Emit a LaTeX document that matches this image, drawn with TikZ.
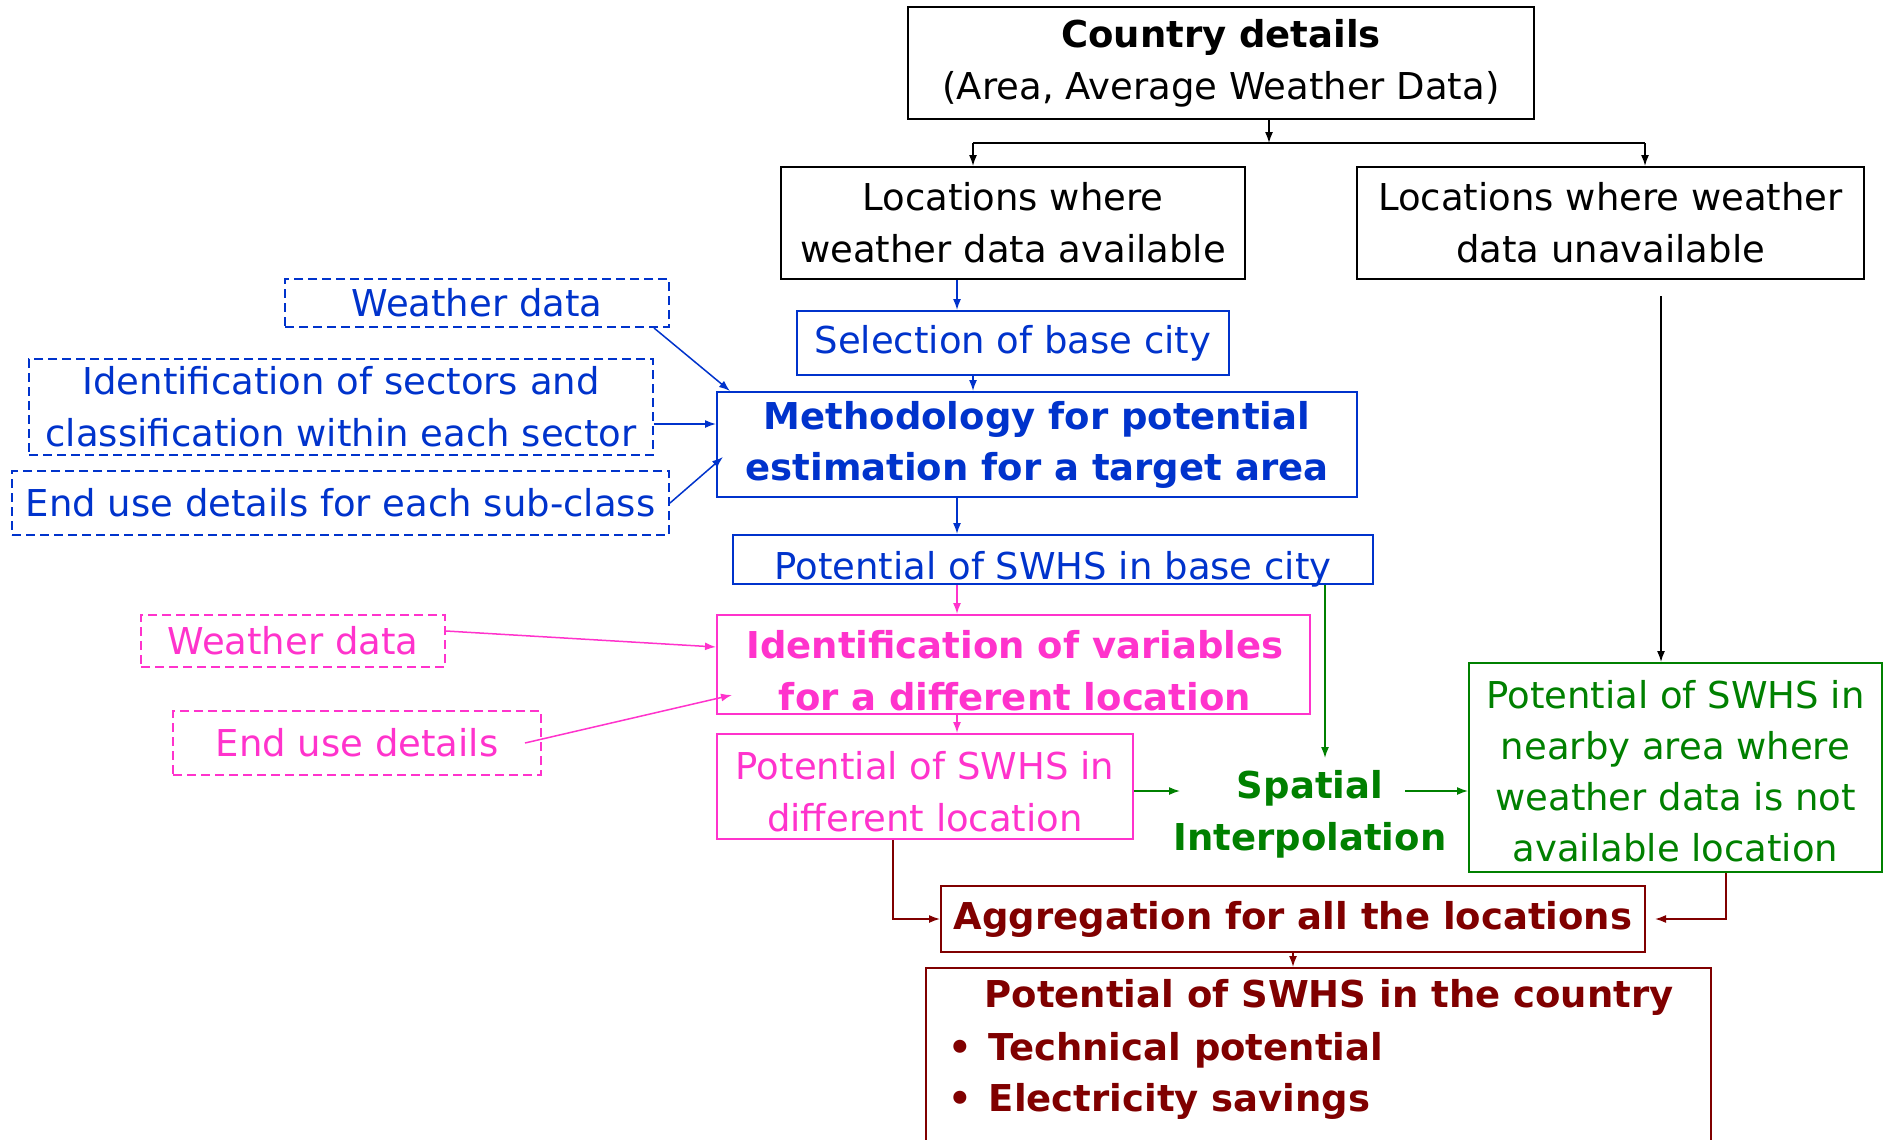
\documentclass[tikz,border=0pt]{standalone}
\usepackage{fontspec}
\setmainfont{DejaVu Sans}
\usetikzlibrary{arrows.meta}
\definecolor{cblue}{HTML}{0033CC}
\definecolor{cpink}{HTML}{FF33CC}
\definecolor{cgreen}{HTML}{008000}
\definecolor{cred}{HTML}{800000}
\begin{document}
\begin{tikzpicture}[x=1pt,y=-1pt,
  box/.style={draw, line width=2pt, inner sep=0pt, align=center, font=\fontsize{37}{52}\selectfont},
  dbox/.style={box, dash pattern=on 9pt off 5pt},
  txt/.style={inner sep=0pt, align=center, font=\fontsize{37}{52}\selectfont},
  btxt/.style={txt, font=\fontsize{37}{52}\selectfont\bfseries},
  arr/.style={line width=1.5pt, -{Latex[length=11pt,width=8pt]}},
]
\useasboundingbox (0,0) rectangle (1884,1140);
\fill[white] (0,0) rectangle (1884,1140);

% black boxes
\node[box, minimum width=626pt, minimum height=112pt] (country) at (1221,63) {\textbf{Country details}\\(Area, Average Weather Data)};
\node[box, minimum width=464pt, minimum height=112pt] (avail) at (1013,223) {Locations where\\weather data available};
\node[box, minimum width=507pt, minimum height=112pt] (unavail) at (1610.5,223) {Locations where weather\\data unavailable};

% blue
\node[dbox, cblue, minimum width=384pt, minimum height=48pt] (wd1) at (477,303) {\raisebox{-5pt}{Weather data}};
\node[dbox, cblue, minimum width=624pt, minimum height=96pt] (sect) at (341,407) {Identification of sectors and\\classification within each sector};
\node[dbox, cblue, minimum width=657pt, minimum height=64pt] (enduse) at (340.5,503) {End use details for each sub-class};
\node[box, cblue, minimum width=432pt, minimum height=64pt] (sel) at (1013,343) {Selection of base city};
\node[box, cblue, minimum width=640pt, minimum height=105pt, font=\fontsize{37}{51}\selectfont\bfseries] (meth) at (1037,444.5) {Methodology for potential\\estimation for a target area};
\node[box, cblue, minimum width=640pt, minimum height=49pt] (base) at (1053,559.5) {};
\node[txt, cblue, anchor=base] (baseT) at (1053,579) {Potential of SWHS in base city};

% pink
\node[dbox, cpink, minimum width=304pt, minimum height=52pt] (pwd) at (293,641) {\raisebox{-3pt}{Weather data}};
\node[dbox, cpink, minimum width=368pt, minimum height=64pt] (peu) at (357,743) {End use details};
\node[box, cpink, minimum width=593pt, minimum height=99pt] (ivar) at (1013.5,664.5) {};
\node[btxt, cpink] (ivarT) at (1015,671) {Identification of variables\\for a different location};
\node[box, cpink, minimum width=416pt, minimum height=105pt] (pdiff) at (925,786.5) {};
\node[txt, cpink] (pdiffT) at (925,792) {Potential of SWHS in\\different location};

% green
\node[btxt, cgreen] (spatial) at (1310,814) {Spatial\\Interpolation};
\node[box, cgreen, minimum width=413pt, minimum height=209pt] (pnear) at (1675.5,767.5) {};
\node[txt, cgreen, font=\fontsize{37}{51}\selectfont] (pnearT) at (1675.5,771) {Potential of SWHS in\\nearby area where\\weather data is not\\available location};

% dark red
\node[box, cred, minimum width=704pt, minimum height=66pt, font=\fontsize{37}{52}\selectfont\bfseries] (agg) at (1293,919) {Aggregation for all the locations};
\node[box, cred, minimum width=785pt, minimum height=190pt, anchor=north west] (final) at (925,967) {};
\node[btxt, cred] (finT) at (1329,997) {Potential of SWHS in the country};
\node[btxt, cred, anchor=west] (fin1) at (948,1050) {•\hspace{17pt}Technical potential};
\node[btxt, cred, anchor=west] (fin2) at (948,1101) {•\hspace{17pt}Electricity savings};

% helper coordinates
\coordinate (j) at (1269,143);
\coordinate (ja) at (973,143);
\coordinate (ju) at (1645,143);
\coordinate (xa) at (957,0);
\coordinate (xb) at (973,0);
\coordinate (xc) at (1325,0);
\coordinate (xd) at (893,0);
\coordinate (xe) at (1726,0);
\coordinate (xf) at (1293,0);
\coordinate (xg) at (1661,0);
\coordinate (ym) at (0,791);
\coordinate (ys) at (0,424);
\coordinate (sp) at (1325,758);
\coordinate (sp1) at (1180,791);
\coordinate (sp2) at (1405,791);

% black connectors
\draw[arr] (country.south -| j) -- (j);
\draw[line width=1.5pt] (ja) -- (ju);
\draw[arr] (ja) -- (avail.north -| ja);
\draw[arr] (ju) -- (unavail.north -| ju);
\draw[arr] (unavail.south -| xg) ++(0,16) -- (pnear.north -| xg);

% blue connectors
\draw[arr, cblue] (avail.south -| xa) -- (sel.north -| xa);
\draw[arr, cblue] (sel.south -| xb) -- (meth.north -| xb);
\draw[arr, cblue] (meth.south -| xa) -- (base.north -| xa);
\draw[arr, cblue] ([xshift=-16pt]wd1.south east) -- ([xshift=14pt]meth.north west);
\draw[arr, cblue] (sect.east |- ys) -- (meth.west |- ys);
\draw[arr, cblue] (enduse.east) -- ([xshift=7pt,yshift=-12.5pt]meth.west);

% pink connectors
\draw[arr, cpink] (base.south -| xa) -- (ivar.north -| xa);
\draw[arr, cpink] (ivar.south -| xa) -- (pdiff.north -| xa);
\draw[arr, cpink] ([yshift=10pt]pwd.east) -- ([yshift=17.5pt]ivar.west);
\draw[arr, cpink] ([xshift=-17pt]peu.east) -- ([xshift=16pt,yshift=-30.5pt]ivar.west);

% green connectors
\draw[arr, cgreen] (base.south -| xc) -- (sp);
\draw[arr, cgreen] (pdiff.east |- ym) -- (sp1);
\draw[arr, cgreen] (sp2) -- (pnear.west |- ym);

% dark red connectors
\draw[arr, cred] (pdiff.south -| xd) |- (agg.west);
\draw[arr, cred] (pnear.south -| xe) |- ([xshift=9pt]agg.east);
\draw[arr, cred] (agg.south -| xf) -- (final.north -| xf);
\end{tikzpicture}
\end{document}
